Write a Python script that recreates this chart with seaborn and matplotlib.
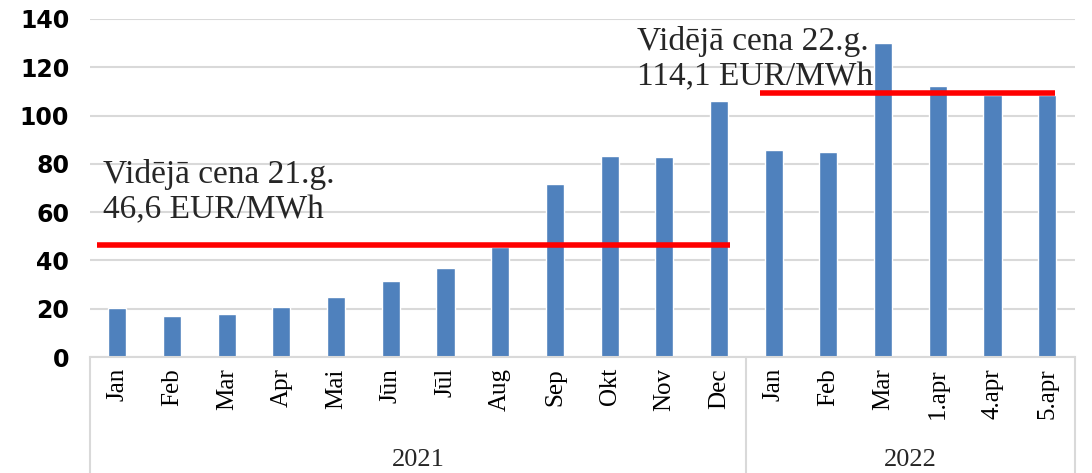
import matplotlib
matplotlib.use("Agg")
import matplotlib.pyplot as plt
import seaborn as sns
import pandas as pd

months = ["Jan", "Feb", "Mar", "Apr", "Mai", "Jūn", "Jūl", "Aug", "Sep", "Okt", "Nov", "Dec",
          "Jan", "Feb", "Mar", "1.apr", "4.apr", "5.apr"]
years = ["2021"] * 12 + ["2022"] * 6
prices = [20.3, 17.0, 17.8, 20.7, 24.9, 31.5, 36.9, 45.7, 71.7, 83.4, 82.7, 105.9,
          85.8, 84.8, 130.0, 112.3, 108.6, 108.6]
avg_levels = [46.6, 109.5]
avg_labels = [["Vidējā cena 21.g.", "46,6 EUR/MWh"], ["Vidējā cena 22.g.", "114,1 EUR/MWh"]]
y_ticks = [0, 20, 40, 60, 80, 100, 120, 140]

df = pd.DataFrame({"key": [f"{y} {m} {i}" for i, (y, m) in enumerate(zip(years, months))],
                   "price": prices})

sns.set_theme(style="white")
fig = plt.figure(figsize=(10.92, 4.73), dpi=100)
ax = fig.add_axes([0.0824, 0.245, 0.9016, 0.715])

sns.barplot(data=df, x="key", y="price", color="#4f81bd", saturation=1, width=0.33, ax=ax)

ax.set_ylim(0, 140)
ax.set_xlim(-0.5, len(months) - 0.5)
ax.set_yticks(y_ticks)
ax.set_yticklabels([str(v) for v in y_ticks], fontweight="bold", fontsize=17,
                   family="DejaVu Sans", color="black")
ax.yaxis.grid(True, color="#d9d9d9", linewidth=1.5)
ax.set_axisbelow(True)
for s in ["left", "right", "top"]:
    ax.spines[s].set_visible(False)
ax.spines["bottom"].set_color("#d9d9d9")
ax.spines["bottom"].set_linewidth(1.5)
ax.set_xlabel("")
ax.set_ylabel("")
ax.set_xticks(range(len(months)))
ax.set_xticklabels(months, rotation=90, family="Liberation Serif", fontsize=18, color="black")
ax.tick_params(axis="x", length=0, pad=8)
ax.tick_params(axis="y", length=0, pad=15)

# average lines
ax.plot([-0.37, 11.2], [avg_levels[0]] * 2, color="#ff0000", linewidth=4, solid_capstyle="butt", zorder=3)
ax.plot([11.75, 17.14], [avg_levels[1]] * 2, color="#ff0000", linewidth=4, solid_capstyle="butt", zorder=3)

fs = 24
ax.text(-0.26, 75.4, avg_labels[0][0], family="Liberation Serif", fontsize=fs, va="center", ha="left")
ax.text(-0.26, 60.9, avg_labels[0][1], family="Liberation Serif", fontsize=fs, va="center", ha="left")
ax.text(9.5, 130.5, avg_labels[1][0], family="Liberation Serif", fontsize=fs, va="center", ha="left")
ax.text(9.5, 116.0, avg_labels[1][1], family="Liberation Serif", fontsize=fs, va="center", ha="left")

# group separators and year labels
tr = ax.get_xaxis_transform()
for xs in [-0.5, 11.5, 17.5]:
    ax.plot([xs, xs], [0, -0.4], transform=tr, color="#d9d9d9", linewidth=1.5, clip_on=False)
ax.text(5.5, -0.305, "2021", transform=tr, family="Liberation Serif", fontsize=19, ha="center", va="center")
ax.text(14.5, -0.305, "2022", transform=tr, family="Liberation Serif", fontsize=19, ha="center", va="center")

fig.savefig("out.png", dpi=100)
